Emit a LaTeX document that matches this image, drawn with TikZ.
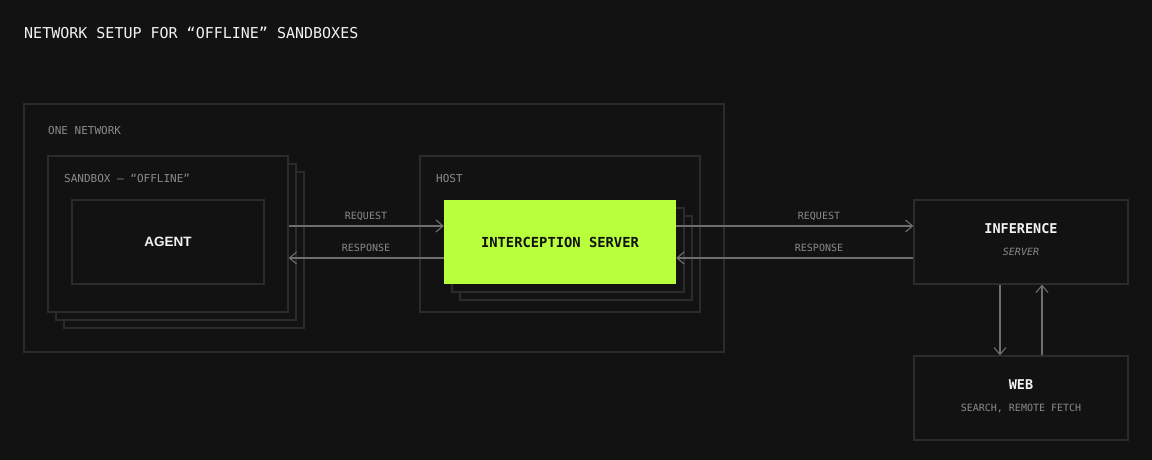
\documentclass[tikz,border=0pt]{standalone}
\usepackage{fontspec}
\setmonofont{DejaVu Sans Mono}
\setsansfont{Liberation Sans}
\usetikzlibrary{arrows.meta}
\definecolor{bg}{HTML}{121212}
\definecolor{boxline}{HTML}{2B2B2B}
\definecolor{arrline}{HTML}{6E6E6E}
\definecolor{dimtext}{HTML}{8A8A8A}
\definecolor{brighttext}{HTML}{F2F2F2}
\definecolor{lime}{HTML}{B8FF3C}
\tikzset{
  frame/.style={draw=boxline, line width=1.3pt, fill=bg, inner sep=0pt},
  label/.style={text=dimtext, font=\ttfamily\fontsize{11}{13}\selectfont, anchor=west, inner sep=0pt},
  arrlabel/.style={text=dimtext, font=\ttfamily\fontsize{10}{12}\selectfont, inner sep=0pt},
  title/.style={text=brighttext, font=\ttfamily\bfseries\fontsize{13.5}{15}\selectfont, inner sep=0pt},
  sub/.style={text=dimtext, font=\ttfamily\fontsize{10}{12}\selectfont, inner sep=0pt},
  arr/.style={draw=arrline, line width=1.3pt, -{Straight Barb[length=7pt,width=12pt,line width=1.1pt]}},
}
\begin{document}
\begin{tikzpicture}[x=1pt,y=-1pt]
\fill[bg] (0,0) rectangle (1152,460);
\useasboundingbox (0,0) rectangle (1152,460);

\node[text=brighttext, font=\ttfamily\fontsize{15}{17}\selectfont, anchor=west, inner sep=0pt] (head) at (24,33) {NETWORK SETUP FOR “OFFLINE” SANDBOXES};

% outer network
\draw[frame] (24,104) rectangle (724,352);
\node[label] (netlbl) at (48,130) {ONE NETWORK};

% sandbox stack
\draw[frame] (64,172) rectangle (304,328);
\draw[frame] (56,164) rectangle (296,320);
\node[frame, minimum width=240pt, minimum height=156pt] (sbx) at (168,234) {};
\node[label] (sbxlbl) at (64,178) {SANDBOX — “OFFLINE”};
\node[frame, minimum width=192pt, minimum height=84pt, text=brighttext, font=\sffamily\bfseries\fontsize{13.5}{15}\selectfont] (agent) at (168,242) {AGENT};

% host
\node[frame, minimum width=280pt, minimum height=156pt] (host) at (560,234) {};
\node[label] (hostlbl) at (436,178) {HOST};
\draw[frame] (460,216) rectangle (692,300);
\draw[frame] (452,208) rectangle (684,292);
\node[fill=lime, inner sep=0pt, minimum width=232pt, minimum height=84pt, text=bg, font=\ttfamily\bfseries\fontsize{13.8}{15}\selectfont] (srv) at (560,242) {INTERCEPTION SERVER};

% inference and web
\node[frame, minimum width=214pt, minimum height=84pt] (inf) at (1021,242) {};
\node[title] (inft) at (1021,229) {INFERENCE};
\node[sub, font=\ttfamily\itshape\fontsize{10}{12}\selectfont] (infs) at (1021,252) {SERVER};
\node[frame, minimum width=214pt, minimum height=84pt] (web) at (1021,398) {};
\node[title] (webt) at (1021,385) {WEB};
\node[sub] (webs) at (1021,408) {SEARCH, REMOTE FETCH};

% connectors
\coordinate (reqy) at (0,226);
\coordinate (resy) at (0,258);
\coordinate (downx) at (1000,0);
\coordinate (upx) at (1042,0);
\draw[arr] (sbx.east |- reqy) -- (srv.west |- reqy);
\draw[arr] (srv.west |- resy) -- (sbx.east |- resy);
\draw[arr] (srv.east |- reqy) -- (inf.west |- reqy);
\draw[arr] (inf.west |- resy) -- (srv.east |- resy);
\draw[arr] (inf.south -| downx) -- (web.north -| downx);
\draw[arr] (web.north -| upx) -- (inf.south -| upx);

\node[arrlabel] (l1) at (366,216) {REQUEST};
\node[arrlabel] (l2) at (366,248) {RESPONSE};
\node[arrlabel] (l3) at (819,216) {REQUEST};
\node[arrlabel] (l4) at (819,248) {RESPONSE};
\end{tikzpicture}
\end{document}
